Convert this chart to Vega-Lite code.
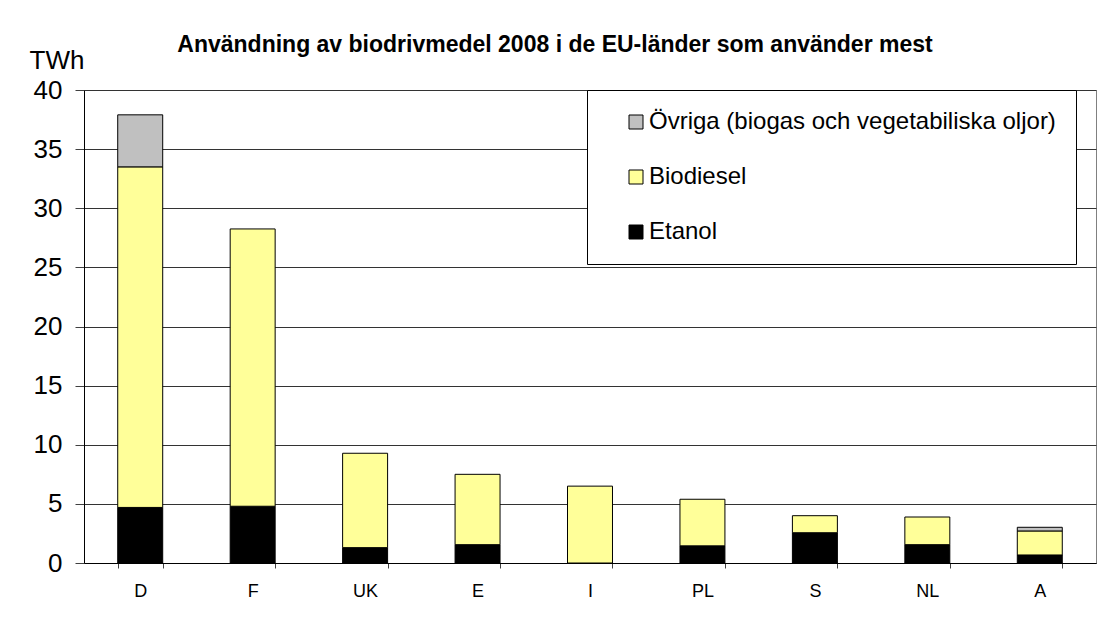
{
  "$schema": "https://vega.github.io/schema/vega-lite/v6.json",
  "autosize": {"type": "none"},
  "width": 1012,
  "height": 473,
  "padding": {"left": 84, "top": 90, "right": 6, "bottom": 56},
  "background": "white",
  "title": {
    "text": "Användning av biodrivmedel 2008 i de EU-länder som använder mest",
    "font": "Liberation Sans",
    "fontSize": 23,
    "fontWeight": "bold",
    "color": "black",
    "anchor": "middle",
    "frame": "group",
    "dx": -35,
    "baseline": "alphabetic",
    "offset": -28
  },
  "config": {
    "view": {"stroke": "#808080", "strokeWidth": 1},
    "font": "Liberation Sans"
  },
  "data": {
    "values": [
      {"land": "D", "typ": "Etanol", "TWh": 4.7},
      {"land": "D", "typ": "Biodiesel", "TWh": 28.8},
      {"land": "D", "typ": "Övriga (biogas och vegetabiliska oljor)", "TWh": 4.4},
      {"land": "F", "typ": "Etanol", "TWh": 4.8},
      {"land": "F", "typ": "Biodiesel", "TWh": 23.45},
      {"land": "UK", "typ": "Etanol", "TWh": 1.3},
      {"land": "UK", "typ": "Biodiesel", "TWh": 7.98},
      {"land": "E", "typ": "Etanol", "TWh": 1.55},
      {"land": "E", "typ": "Biodiesel", "TWh": 5.95},
      {"land": "I", "typ": "Biodiesel", "TWh": 6.5},
      {"land": "PL", "typ": "Etanol", "TWh": 1.45},
      {"land": "PL", "typ": "Biodiesel", "TWh": 3.94},
      {"land": "S", "typ": "Etanol", "TWh": 2.56},
      {"land": "S", "typ": "Biodiesel", "TWh": 1.44},
      {"land": "NL", "typ": "Etanol", "TWh": 1.55},
      {"land": "NL", "typ": "Biodiesel", "TWh": 2.34},
      {"land": "A", "typ": "Etanol", "TWh": 0.68},
      {"land": "A", "typ": "Biodiesel", "TWh": 2.03},
      {"land": "A", "typ": "Övriga (biogas och vegetabiliska oljor)", "TWh": 0.31}
    ]
  },
  "transform": [
    {"calculate": "indexof(['Etanol','Biodiesel','Övriga (biogas och vegetabiliska oljor)'], datum.typ)", "as": "ord"}
  ],
  "mark": {"type": "bar", "stroke": "black", "strokeWidth": 1},
  "encoding": {
    "x": {
      "field": "land",
      "type": "nominal",
      "sort": ["D", "F", "UK", "E", "I", "PL", "S", "NL", "A"],
      "scale": {"paddingInner": 0.6, "paddingOuter": 0.3},
      "axis": {
        "title": null,
        "labelAngle": 0,
        "labelFontSize": 18,
        "labelColor": "black",
        "labelPadding": 14,
        "tickBand": "extent",
        "tickSize": 5,
        "tickColor": "#404040",
        "domainColor": "black",
        "grid": false
      }
    },
    "y": {
      "field": "TWh",
      "type": "quantitative",
      "aggregate": "sum",
      "stack": "zero",
      "scale": {"domain": [0, 40], "nice": false},
      "axis": {
        "values": [0, 5, 10, 15, 20, 25, 30, 35, 40],
        "title": "TWh",
        "titleAngle": 0,
        "titleAlign": "left",
        "titleBaseline": "alphabetic",
        "titleX": -55,
        "titleY": -22,
        "titleFontSize": 26,
        "titleFontWeight": "normal",
        "titleColor": "black",
        "labelFontSize": 26,
        "labelColor": "black",
        "labelPadding": 13,
        "tickSize": 9,
        "tickColor": "#404040",
        "domainColor": "black",
        "gridColor": "#333333",
        "gridWidth": 1
      }
    },
    "color": {
      "field": "typ",
      "type": "nominal",
      "scale": {
        "domain": ["Övriga (biogas och vegetabiliska oljor)", "Biodiesel", "Etanol"],
        "range": ["#C0C0C0", "#FFFF99", "#000000"]
      },
      "legend": {
        "title": null,
        "orient": "none",
        "legendX": 503,
        "legendY": 0,
        "fillColor": "white",
        "strokeColor": "black",
        "padding": 20,
        "symbolType": "square",
        "symbolSize": 196,
        "symbolStrokeColor": "black",
        "symbolStrokeWidth": 1,
        "symbolOffset": 17,
        "labelFontSize": 24,
        "labelColor": "black",
        "labelOffset": 1,
        "labelLimit": 0,
        "rowPadding": 31
      }
    },
    "order": {"field": "ord", "type": "quantitative"}
  }
}
